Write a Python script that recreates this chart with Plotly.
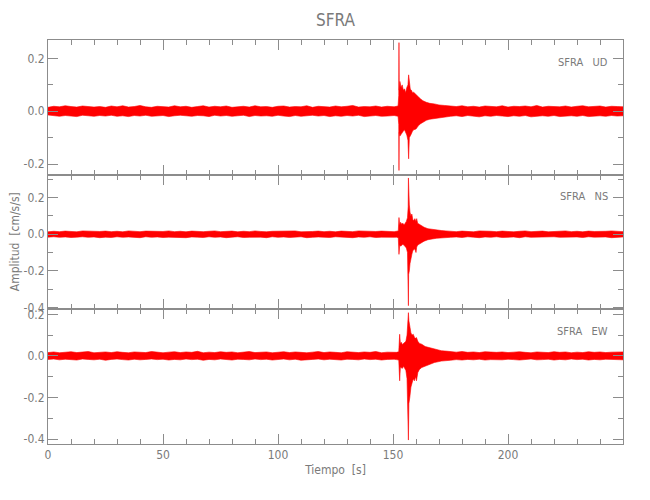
import numpy as np
import plotly.graph_objects as go
from plotly.subplots import make_subplots

# ---------------- data (cm/s/s), envelope ----------------
STATION = "SFRA"
COMPONENTS = ["UD", "NS", "EW"]

# regular sampling of the quiet parts (s)
t_pre = list(np.arange(0, 150, 2.5))      # 0 .. 147.5  (60 knots)
t_post = list(np.arange(175, 250.1, 2.5))  # 175 .. 250  (31 knots)

# ---- UD ----
ud_pre_up = [0.015,0.019,0.017,0.021,0.018,0.016,0.020,0.019,0.016,0.018,
             0.015,0.020,0.017,0.021,0.016,0.018,0.022,0.017,0.015,0.019,
             0.018,0.016,0.021,0.017,0.019,0.015,0.018,0.021,0.016,0.019,
             0.017,0.020,0.015,0.018,0.019,0.016,0.021,0.017,0.018,0.015,
             0.019,0.020,0.016,0.018,0.017,0.021,0.015,0.019,0.018,0.016,
             0.020,0.017,0.019,0.022,0.016,0.018,0.017,0.020,0.016,0.019]
ud_pre_lo = [-0.014,-0.017,-0.019,-0.016,-0.018,-0.020,-0.015,-0.017,-0.019,-0.016,
             -0.018,-0.015,-0.019,-0.017,-0.020,-0.016,-0.018,-0.015,-0.019,-0.017,
             -0.016,-0.020,-0.017,-0.015,-0.018,-0.019,-0.016,-0.017,-0.020,-0.015,
             -0.018,-0.016,-0.019,-0.017,-0.015,-0.020,-0.016,-0.018,-0.017,-0.019,
             -0.015,-0.018,-0.020,-0.016,-0.019,-0.017,-0.015,-0.018,-0.016,-0.020,
             -0.017,-0.019,-0.016,-0.018,-0.015,-0.020,-0.017,-0.016,-0.019,-0.018]
ud_ev_t = [150.5,151.5,152.2,152.5,152.6,152.7,153.0,153.5,154.0,154.5,155.0,155.5,156.0,156.5,
           156.8,157.1,157.5,158.0,158.5,159.0,160.0,161.0,162.0,163.0,164.5,166.0,168.0,170.0,172.5]
ud_ev_up = [0.017,0.019,0.020,0.060,0.260,0.080,0.113,0.090,0.100,0.080,0.085,0.070,0.090,0.100,
            0.138,0.095,0.084,0.080,0.070,0.072,0.065,0.055,0.047,0.040,0.034,0.030,0.028,0.024,0.022]
ud_ev_lo = [-0.016,-0.018,-0.019,-0.050,-0.224,-0.080,-0.094,-0.085,-0.080,-0.075,-0.070,-0.080,-0.090,-0.110,
            -0.180,-0.100,-0.094,-0.085,-0.075,-0.070,-0.067,-0.055,-0.047,-0.040,-0.034,-0.030,-0.028,-0.024,-0.022]
ud_post_up = [0.020,0.018,0.021,0.017,0.019,0.016,0.020,0.018,0.017,0.021,
              0.016,0.019,0.018,0.020,0.017,0.022,0.016,0.019,0.018,0.017,
              0.020,0.016,0.019,0.021,0.017,0.018,0.020,0.016,0.019,0.018,
              0.017]
ud_post_lo = [-0.019,-0.017,-0.020,-0.016,-0.018,-0.021,-0.017,-0.019,-0.016,-0.018,
              -0.020,-0.017,-0.019,-0.016,-0.021,-0.018,-0.017,-0.019,-0.016,-0.020,
              -0.018,-0.017,-0.019,-0.016,-0.020,-0.018,-0.017,-0.019,-0.016,-0.018,
              -0.017]

# ---- NS ----
ns_pre_up = [0.013,0.016,0.014,0.017,0.015,0.013,0.018,0.016,0.014,0.015,
             0.017,0.014,0.016,0.013,0.018,0.015,0.014,0.017,0.016,0.013,
             0.015,0.018,0.014,0.016,0.013,0.017,0.015,0.014,0.016,0.018,
             0.014,0.015,0.017,0.013,0.016,0.014,0.018,0.015,0.013,0.016,
             0.017,0.014,0.015,0.018,0.013,0.016,0.015,0.017,0.014,0.016,
             0.013,0.017,0.015,0.014,0.018,0.016,0.013,0.015,0.017,0.014]
ns_pre_lo = [-0.016,-0.014,-0.017,-0.015,-0.018,-0.016,-0.014,-0.017,-0.015,-0.019,
             -0.016,-0.018,-0.014,-0.017,-0.015,-0.016,-0.019,-0.014,-0.017,-0.015,
             -0.018,-0.016,-0.014,-0.017,-0.019,-0.015,-0.016,-0.018,-0.014,-0.017,
             -0.015,-0.019,-0.016,-0.014,-0.018,-0.017,-0.015,-0.016,-0.019,-0.014,
             -0.017,-0.015,-0.018,-0.016,-0.014,-0.019,-0.017,-0.015,-0.016,-0.018,
             -0.014,-0.017,-0.016,-0.019,-0.015,-0.017,-0.014,-0.018,-0.016,-0.015]
ns_ev_t = [150.5,151.5,152.3,152.6,152.9,153.3,153.8,154.3,154.8,155.3,155.8,156.3,156.6,156.7,
           156.8,157.1,157.4,157.8,158.2,158.6,159.0,159.5,160.0,160.3,160.7,161.3,162.3,163.5,
           165.2,167.0,169.0,171.0,173.0]
ns_ev_up = [0.014,0.016,0.018,0.091,0.050,0.065,0.055,0.060,0.050,0.060,0.070,0.090,0.150,0.307,
            0.200,0.160,0.120,0.100,0.110,0.080,0.075,0.085,0.070,0.085,0.060,0.055,0.045,0.038,
            0.030,0.026,0.022,0.020,0.018]
ns_ev_lo = [-0.017,-0.016,-0.019,-0.110,-0.060,-0.065,-0.060,-0.055,-0.060,-0.065,-0.075,-0.100,-0.200,-0.390,
            -0.220,-0.200,-0.160,-0.130,-0.110,-0.090,-0.085,-0.080,-0.100,-0.070,-0.060,-0.055,-0.045,-0.038,
            -0.030,-0.026,-0.022,-0.020,-0.018]
ns_post_up = [0.016,0.014,0.017,0.015,0.013,0.018,0.015,0.016,0.014,0.017,
              0.015,0.013,0.016,0.018,0.014,0.015,0.017,0.013,0.016,0.015,
              0.018,0.014,0.016,0.013,0.017,0.015,0.014,0.016,0.018,0.015,
              0.014]
ns_post_lo = [-0.017,-0.015,-0.018,-0.014,-0.016,-0.019,-0.015,-0.017,-0.014,-0.018,
              -0.016,-0.015,-0.019,-0.014,-0.017,-0.016,-0.018,-0.015,-0.014,-0.017,
              -0.019,-0.016,-0.015,-0.018,-0.014,-0.016,-0.017,-0.015,-0.019,-0.016,
              -0.015]

# ---- EW ----
ew_pre_up = [0.016,0.019,0.015,0.018,0.020,0.016,0.017,0.021,0.015,0.018,
             0.019,0.016,0.020,0.017,0.015,0.019,0.018,0.016,0.021,0.017,
             0.015,0.018,0.020,0.016,0.019,0.017,0.022,0.015,0.018,0.016,
             0.020,0.017,0.019,0.015,0.018,0.021,0.016,0.017,0.019,0.015,
             0.018,0.020,0.016,0.019,0.017,0.015,0.018,0.021,0.016,0.019,
             0.017,0.015,0.020,0.018,0.016,0.019,0.017,0.021,0.015,0.018]
ew_pre_lo = [-0.017,-0.015,-0.019,-0.016,-0.018,-0.020,-0.015,-0.017,-0.019,-0.016,
             -0.021,-0.017,-0.015,-0.018,-0.020,-0.016,-0.019,-0.017,-0.015,-0.018,
             -0.016,-0.020,-0.017,-0.019,-0.015,-0.018,-0.016,-0.021,-0.017,-0.019,
             -0.015,-0.018,-0.020,-0.016,-0.017,-0.019,-0.015,-0.018,-0.016,-0.020,
             -0.017,-0.015,-0.019,-0.016,-0.021,-0.018,-0.017,-0.015,-0.019,-0.016,
             -0.018,-0.020,-0.016,-0.017,-0.019,-0.015,-0.018,-0.016,-0.020,-0.017]
ew_ev_t = [150.5,151.5,152.5,152.9,153.2,153.6,154.1,154.6,155.1,155.6,156.1,156.5,156.7,156.9,
           157.3,157.8,158.3,158.8,159.3,159.8,160.2,160.8,161.5,162.5,164.0,166.0,168.0,171.0,174.0]
ew_ev_up = [0.016,0.017,0.020,0.104,0.060,0.065,0.055,0.060,0.065,0.070,0.100,0.150,0.208,0.170,
            0.140,0.110,0.100,0.104,0.090,0.085,0.088,0.070,0.060,0.056,0.045,0.040,0.032,0.025,0.022]
ew_ev_lo = [-0.016,-0.018,-0.020,-0.120,-0.055,-0.055,-0.060,-0.050,-0.060,-0.070,-0.110,-0.200,-0.405,-0.230,
            -0.200,-0.150,-0.130,-0.110,-0.120,-0.100,-0.120,-0.080,-0.065,-0.056,-0.048,-0.040,-0.032,-0.025,-0.022]
ew_post_up = [0.020,0.018,0.021,0.017,0.019,0.016,0.020,0.018,0.017,0.019,
              0.016,0.018,0.020,0.017,0.015,0.019,0.018,0.016,0.020,0.017,
              0.019,0.015,0.018,0.016,0.020,0.017,0.019,0.016,0.018,0.017,
              0.019]
ew_post_lo = [-0.021,-0.018,-0.020,-0.017,-0.019,-0.016,-0.020,-0.018,-0.017,-0.019,
              -0.016,-0.018,-0.020,-0.017,-0.015,-0.019,-0.018,-0.016,-0.020,-0.017,
              -0.019,-0.015,-0.018,-0.016,-0.020,-0.017,-0.019,-0.016,-0.018,-0.017,
              -0.019]

y_ranges = [[-0.24, 0.27], [-0.41, 0.325], [-0.424, 0.224]]
y_tickvals = [[-0.2, 0.0, 0.2], [-0.4, -0.2, 0.0, 0.2], [-0.4, -0.2, 0.0, 0.2]]
x_tickvals = [0, 50, 100, 150, 200]
x_ticktext = ["0", "50", "100", "150", "200"]

# ---------------- figure ----------------
FONT = "Liberation Sans Narrow, DejaVu Sans Condensed, sans-serif"
TXT = "#7a7a7a"
AX = "#8c8c8c"

series = [
    (ud_pre_up, ud_pre_lo, ud_ev_t, ud_ev_up, ud_ev_lo, ud_post_up, ud_post_lo),
    (ns_pre_up, ns_pre_lo, ns_ev_t, ns_ev_up, ns_ev_lo, ns_post_up, ns_post_lo),
    (ew_pre_up, ew_pre_lo, ew_ev_t, ew_ev_up, ew_ev_lo, ew_post_up, ew_post_lo),
]

fig = make_subplots(rows=3, cols=1, shared_xaxes=False, vertical_spacing=0)

for i, (pu, pl, et, eu, el, qu, ql) in enumerate(series):
    t = t_pre + et + t_post
    up = pu + eu + qu
    lo = pl + el + ql
    xs = t + t[::-1]
    ys = up + lo[::-1]
    fig.add_trace(go.Scatter(x=xs, y=ys, mode="lines", fill="toself",
                             fillcolor="#ff0000", line=dict(color="#ff0000", width=0.6),
                             hoverinfo="skip", showlegend=False), row=i + 1, col=1)

for i in range(3):
    r = i + 1
    fig.update_yaxes(row=r, col=1, range=y_ranges[i], tickmode="array", automargin=False,
                     tickvals=y_tickvals[i], ticktext=[f"{v:.1f}" for v in y_tickvals[i]],
                     ticks="inside", ticklen=10, tickcolor=AX, showline=True, linecolor=AX,
                     linewidth=1, mirror="ticks", showgrid=False, zeroline=False,
                     minor=dict(tickmode="linear", tick0=0, dtick=0.1, ticks="inside",
                                ticklen=5, tickcolor=AX, showgrid=False),
                     tickfont=dict(family=FONT, size=12, color=TXT))
    fig.update_xaxes(row=r, col=1, range=[0, 250], tickmode="array", automargin=False,
                     tickvals=x_tickvals, ticktext=x_ticktext,
                     ticks="inside", ticklen=10, tickcolor=AX, showline=True, linecolor=AX,
                     linewidth=1, mirror="ticks", showgrid=False, zeroline=False,
                     showticklabels=(r == 3),
                     minor=dict(tickmode="linear", tick0=0, dtick=10, ticks="inside",
                                ticklen=5, tickcolor=AX, showgrid=False),
                     tickfont=dict(family=FONT, size=12, color=TXT))

fig.update_xaxes(row=3, col=1, title=dict(text="Tiempo  [s]", standoff=4,
                                           font=dict(family=FONT, size=12, color=TXT)))

for i, comp in enumerate(COMPONENTS):
    yref = "y domain" if i == 0 else f"y{i+1} domain"
    xref = "x domain" if i == 0 else f"x{i+1} domain"
    fig.add_annotation(x=0.977, y=0.835, xref=xref, yref=yref, xanchor="right",
                       yanchor="middle", showarrow=False,
                       text=f"{STATION}&nbsp;&nbsp;&nbsp;{comp}",
                       font=dict(family=FONT, size=11, color=TXT))

fig.add_annotation(x=-0.057, y=0.5, xref="paper", yref="paper", textangle=-90,
                   showarrow=False, text="Amplitud  [cm/s/s]", xanchor="center",
                   yanchor="middle", font=dict(family=FONT, size=12, color=TXT))

fig.update_layout(
    width=650, height=500,
    margin=dict(l=40, r=35, t=32, b=64, autoexpand=False),
    paper_bgcolor="white", plot_bgcolor="white",
    title=dict(text=STATION, x=0.5, xanchor="center", xref="paper", y=0.976, yanchor="middle",
               font=dict(family=FONT, size=17, color=TXT)),
)

fig.write_html("out.html")
